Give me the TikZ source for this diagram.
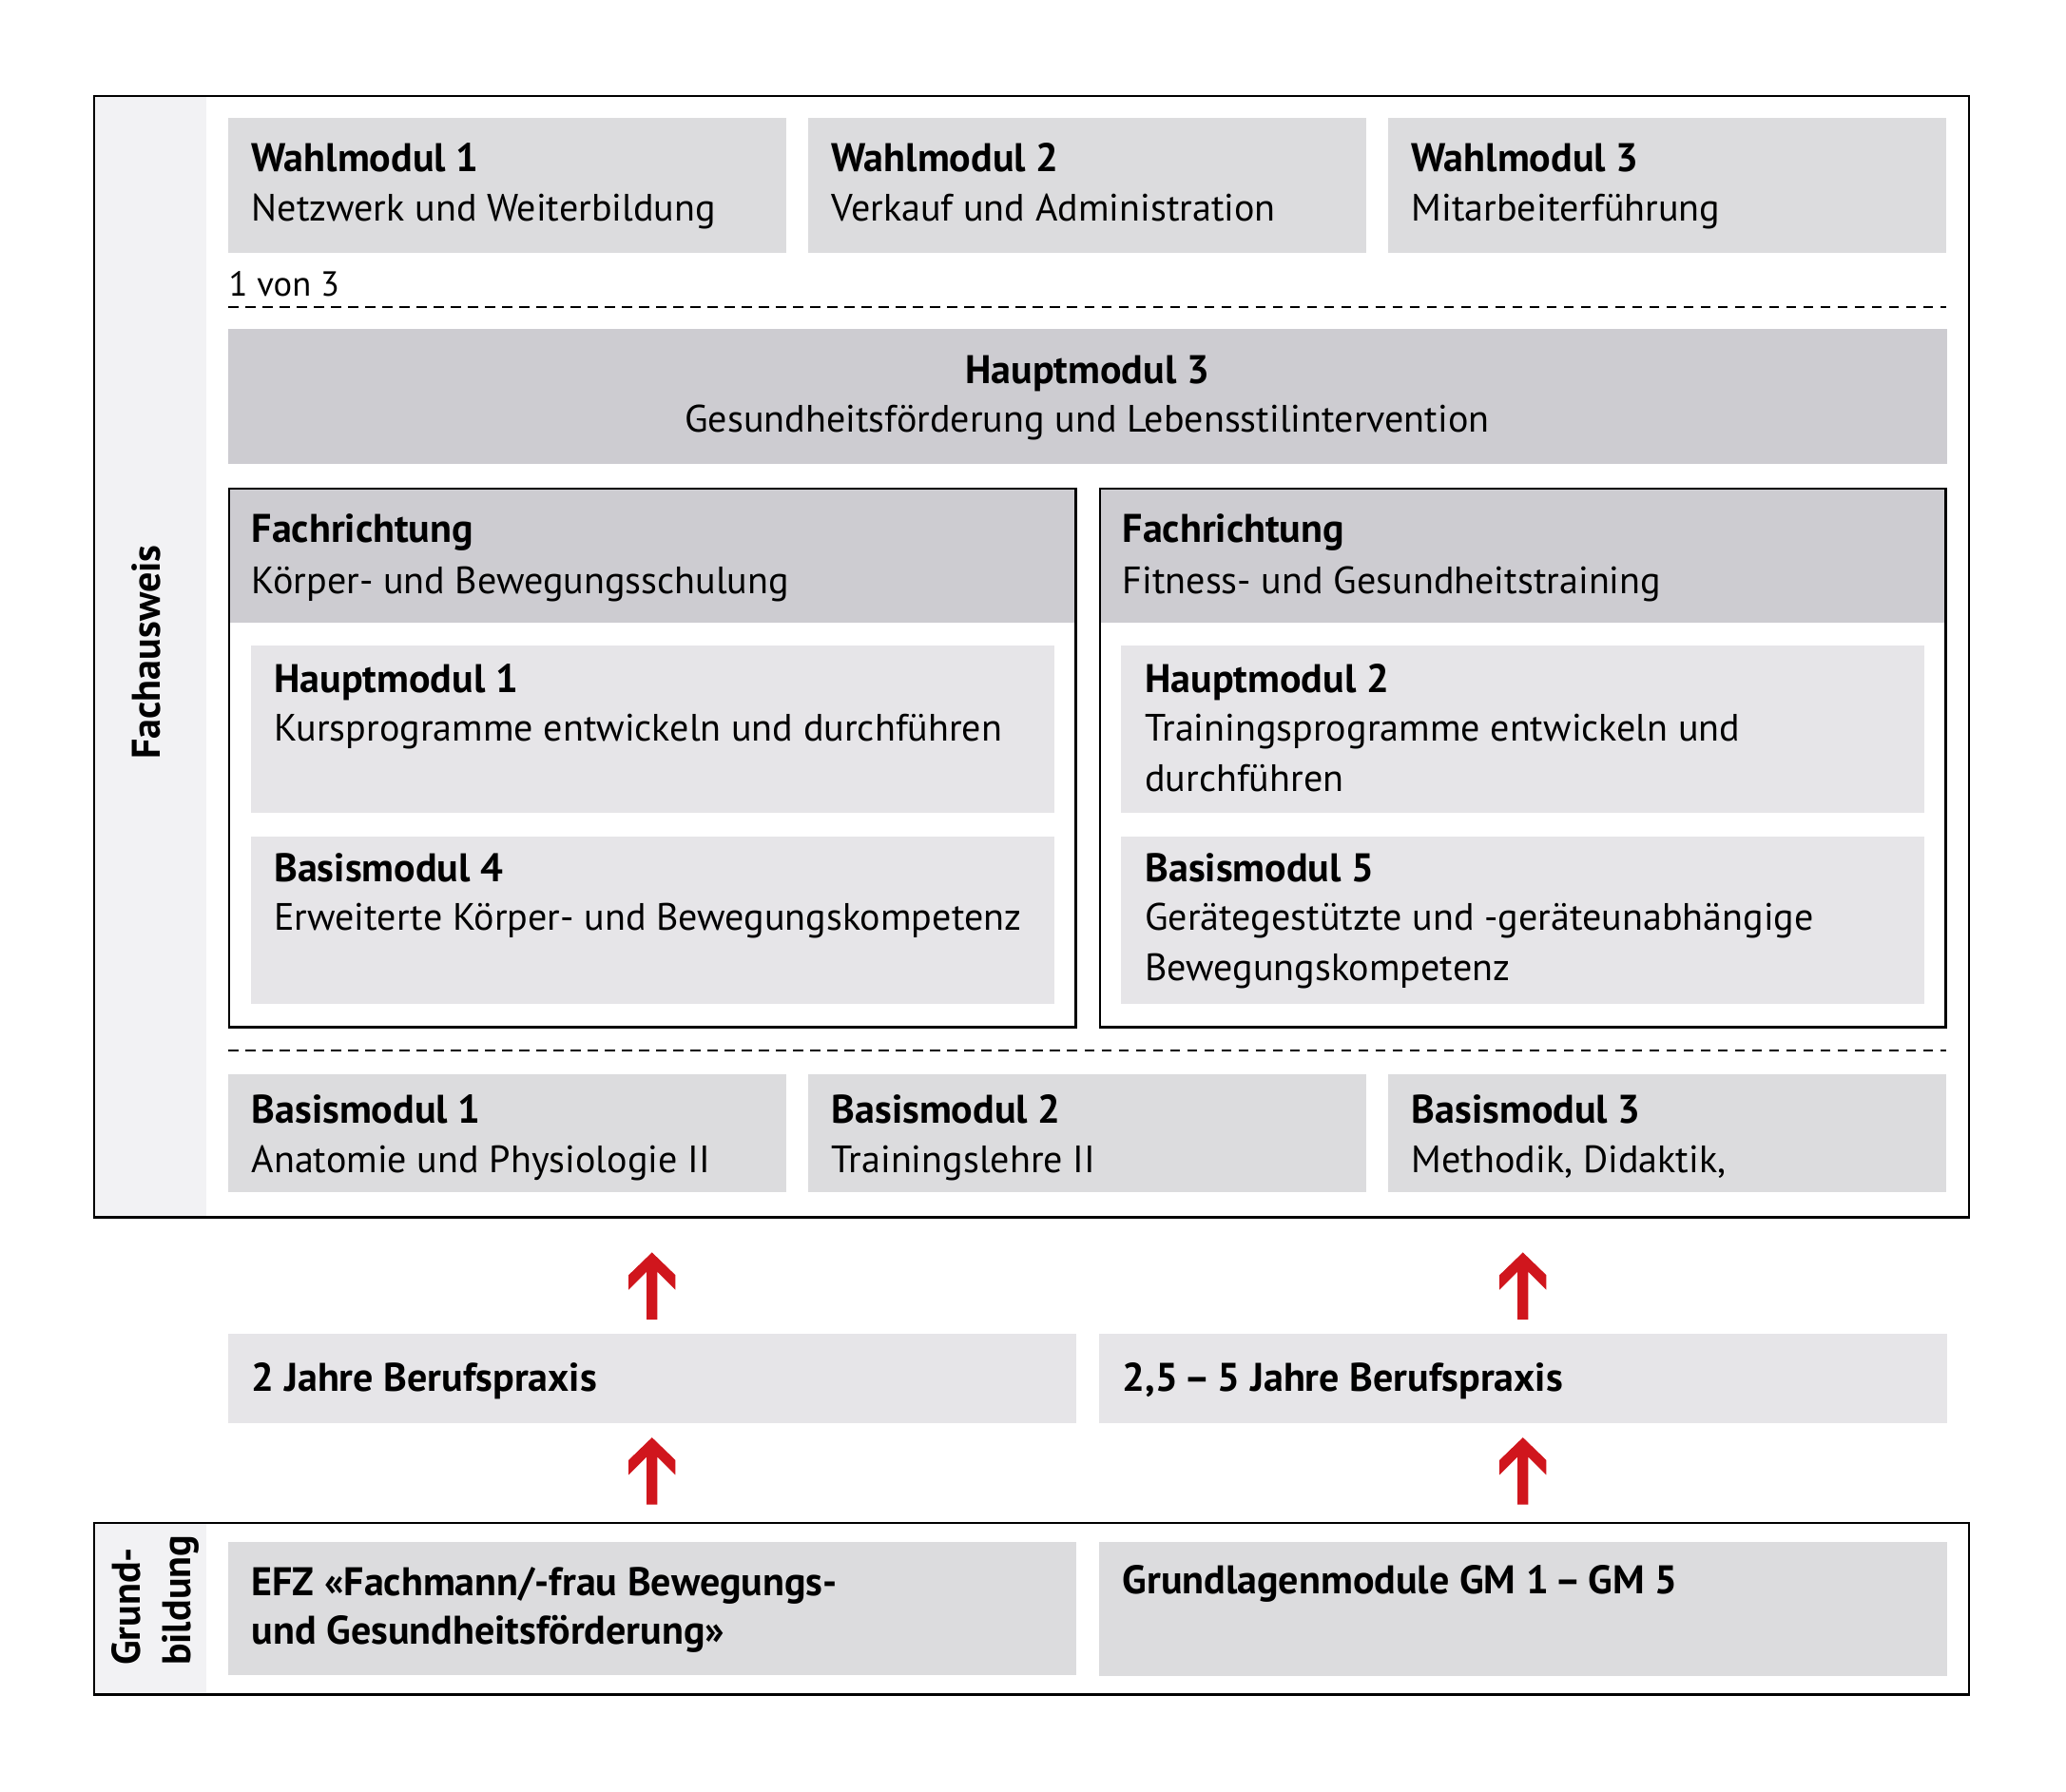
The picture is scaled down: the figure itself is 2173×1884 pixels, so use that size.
\documentclass[tikz,border=0pt]{standalone}
\usepackage{fontspec}
\setmainfont{PT Sans}
\usetikzlibrary{calc}
\definecolor{gMid}{HTML}{DCDCDE}
\definecolor{gDark}{HTML}{CDCCD1}
\definecolor{gLight}{HTML}{E6E5E8}
\definecolor{gStrip}{HTML}{F2F2F4}
\definecolor{arrRed}{HTML}{D0161D}
\newcommand\fsz{\fontsize{11.4}{14}\selectfont}
\newcommand\bsz{\fontsize{11.95}{14}\selectfont}
\tikzset{
  box/.style={rectangle, inner sep=0pt, outer sep=0pt, anchor=north west, draw=none},
  frame/.style={box, draw=black, line width=0.025cm},
  ttl/.style={anchor=base west, inner sep=0pt, font=\bfseries\bsz},
  txt/.style={anchor=base west, inner sep=0pt, font=\fsz},
  sepline/.style={dash pattern=on 0.105cm off 0.075cm, line width=0.02cm},
  redarrow/.style={fill=arrRed, draw=none},
}
\newcommand\uparrowred[1]{\path[redarrow] (#1) -- ++(24.6,23.8) -- ++(0,15.5) -- ++(-19,-19) -- ++(0,50.3) -- ++(-11.2,0) -- ++(0,-50.3) -- ++(-19,19) -- ++(0,-15.5) -- cycle;}
\begin{document}
\begin{tikzpicture}[x=0.01cm, y=-0.01cm]
\useasboundingbox (0,0) rectangle (2173,1884);
% ---------- Fachausweis frame ----------
\node[box, fill=gStrip, minimum width=1.18cm, minimum height=11.79cm] (fstrip) at (99,101) {};
\node[frame, minimum width=19.71cm, minimum height=11.79cm] (fach) at (99,101) {};
\node[ttl, anchor=base, rotate=90] (fachlbl) at (168,686) {Fachausweis};
% Wahlmodule
\node[box, fill=gMid, minimum width=5.87cm, minimum height=1.42cm] (w1) at (240,124) {};
\node[box, fill=gMid, minimum width=5.87cm, minimum height=1.42cm] (w2) at (850,124) {};
\node[box, fill=gMid, minimum width=5.87cm, minimum height=1.42cm] (w3) at (1460,124) {};
\node[ttl] (w1t) at (264,180) {Wahlmodul 1};
\node[txt] (w1s) at (264,232) {Netzwerk und Weiterbildung};
\node[ttl] (w2t) at (874,180) {Wahlmodul 2};
\node[txt] (w2s) at (874,232) {Verkauf und Administration};
\node[ttl] (w3t) at (1484,180) {Wahlmodul 3};
\node[txt] (w3s) at (1484,232) {Mitarbeiterführung};
\node[txt, font=\fontsize{10.4}{12}\selectfont] (von) at (240,311) {1 von 3};
\coordinate (d1a) at (240,322.5);
\coordinate (d1b) at (2047,322.5);
\draw[sepline] (d1a) -- (d1b);
% Hauptmodul 3
\node[box, fill=gDark, minimum width=18.07cm, minimum height=1.42cm] (h3) at (240,346) {};
\node[ttl, anchor=base] (h3t) at (1143.5,403) {Hauptmodul 3};
\node[txt, anchor=base] (h3s) at (1143.5,454.5) {Gesundheitsförderung und Lebensstilintervention};
% Fachrichtung links
\node[box, fill=gDark, minimum width=8.90cm, minimum height=1.41cm] (fl_head) at (241,514) {};
\node[box, fill=gLight, minimum width=8.44cm, minimum height=1.76cm] (hm1) at (264,679) {};
\node[box, fill=gLight, minimum width=8.44cm, minimum height=1.765cm] (bm4) at (264,879.5) {};
\node[frame, minimum width=8.90cm, minimum height=5.66cm] (fl) at (241,514) {};
\node[ttl] (flt) at (264,570.6) {Fachrichtung};
\node[txt] (fls) at (264,624) {Körper- und Bewegungsschulung};
\node[ttl] (hm1t) at (287.6,728.7) {Hauptmodul 1};
\node[txt] (hm1s) at (287.6,779) {Kursprogramme entwickeln und durchführen};
\node[ttl] (bm4t) at (287.6,927.8) {Basismodul 4};
\node[txt] (bm4s) at (287.6,978.6) {Erweiterte Körper- und Bewegungskompetenz};
% Fachrichtung rechts
\node[box, fill=gDark, minimum width=8.89cm, minimum height=1.41cm] (fr_head) at (1157,514) {};
\node[box, fill=gLight, minimum width=8.44cm, minimum height=1.76cm] (hm2) at (1179,679) {};
\node[box, fill=gLight, minimum width=8.44cm, minimum height=1.765cm] (bm5) at (1179,879.5) {};
\node[frame, minimum width=8.89cm, minimum height=5.66cm] (fr) at (1157,514) {};
\node[ttl] (frt) at (1180,570.6) {Fachrichtung};
\node[txt] (frs) at (1180,624) {Fitness- und Gesundheitstraining};
\node[ttl] (hm2t) at (1203.6,728.7) {Hauptmodul 2};
\node[txt] (hm2s) at (1203.6,779) {Trainingsprogramme entwickeln und};
\node[txt] (hm2u) at (1203.6,832.7) {durchführen};
\node[ttl] (bm5t) at (1203.6,927.8) {Basismodul 5};
\node[txt] (bm5s) at (1203.6,978.6) {Gerätegestützte und -geräteunabhängige};
\node[txt] (bm5u) at (1203.6,1031.8) {Bewegungskompetenz};
\coordinate (d2a) at (240,1105);
\coordinate (d2b) at (2047,1105);
\draw[sepline] (d2a) -- (d2b);
% Basismodule 1-3
\node[box, fill=gMid, minimum width=5.87cm, minimum height=1.24cm] (b1) at (240,1130) {};
\node[box, fill=gMid, minimum width=5.87cm, minimum height=1.24cm] (b2) at (850,1130) {};
\node[box, fill=gMid, minimum width=5.87cm, minimum height=1.24cm] (b3) at (1460,1130) {};
\node[ttl] (b1t) at (264,1181) {Basismodul 1};
\node[txt] (b1s) at (264,1233) {Anatomie und Physiologie II};
\node[ttl] (b2t) at (874,1181) {Basismodul 2};
\node[txt] (b2s) at (874,1233) {Trainingslehre II};
\node[ttl] (b3t) at (1484,1181) {Basismodul 3};
\node[txt] (b3s) at (1484,1233) {Methodik, Didaktik,};
% ---------- Berufspraxis ----------
\node[box, fill=gLight, minimum width=8.91cm, minimum height=0.94cm] (ber1) at (240,1403) {};
\node[box, fill=gLight, minimum width=8.91cm, minimum height=0.94cm] (ber2) at (1156,1403) {};
\node[ttl] (ber1t) at (264,1463.8) {2 Jahre Berufspraxis};
\node[ttl] (ber2t) at (1180,1463.8) {2,5\,–\,5 Jahre Berufspraxis};
% ---------- Grundbildung ----------
\node[box, fill=gStrip, minimum width=1.18cm, minimum height=1.805cm] (gstrip) at (99,1602) {};
\node[frame, minimum width=19.71cm, minimum height=1.805cm] (grund) at (99,1602) {};
\node[ttl, rotate=90] (glbl1) at (147,1752.5) {Grund-};
\node[ttl, rotate=90] (glbl2) at (200,1752.5) {bildung};
\node[box, fill=gMid, minimum width=8.91cm, minimum height=1.40cm] (efz) at (240,1622) {};
\node[box, fill=gMid, minimum width=8.91cm, minimum height=1.41cm] (gm) at (1156,1622) {};
\node[ttl] (efzt) at (264,1678) {EFZ «Fachmann/-frau Bewegungs-};
\node[ttl] (efzs) at (264,1729.5) {und Gesundheitsförderung»};
\node[ttl] (gmt) at (1180,1676.5) {Grundlagenmodule GM 1\,–\,GM 5};
% ---------- Pfeile ----------
\coordinate (a1) at ($(ber1.north)+(0,-85.6)$);
\coordinate (a2) at ($(ber2.north)+(0,-85.6)$);
\coordinate (a3) at ($(ber1.south)+(0,15)$);
\coordinate (a4) at ($(ber2.south)+(0,15)$);
\uparrowred{a1}
\uparrowred{a2}
\uparrowred{a3}
\uparrowred{a4}
\end{tikzpicture}
\end{document}
